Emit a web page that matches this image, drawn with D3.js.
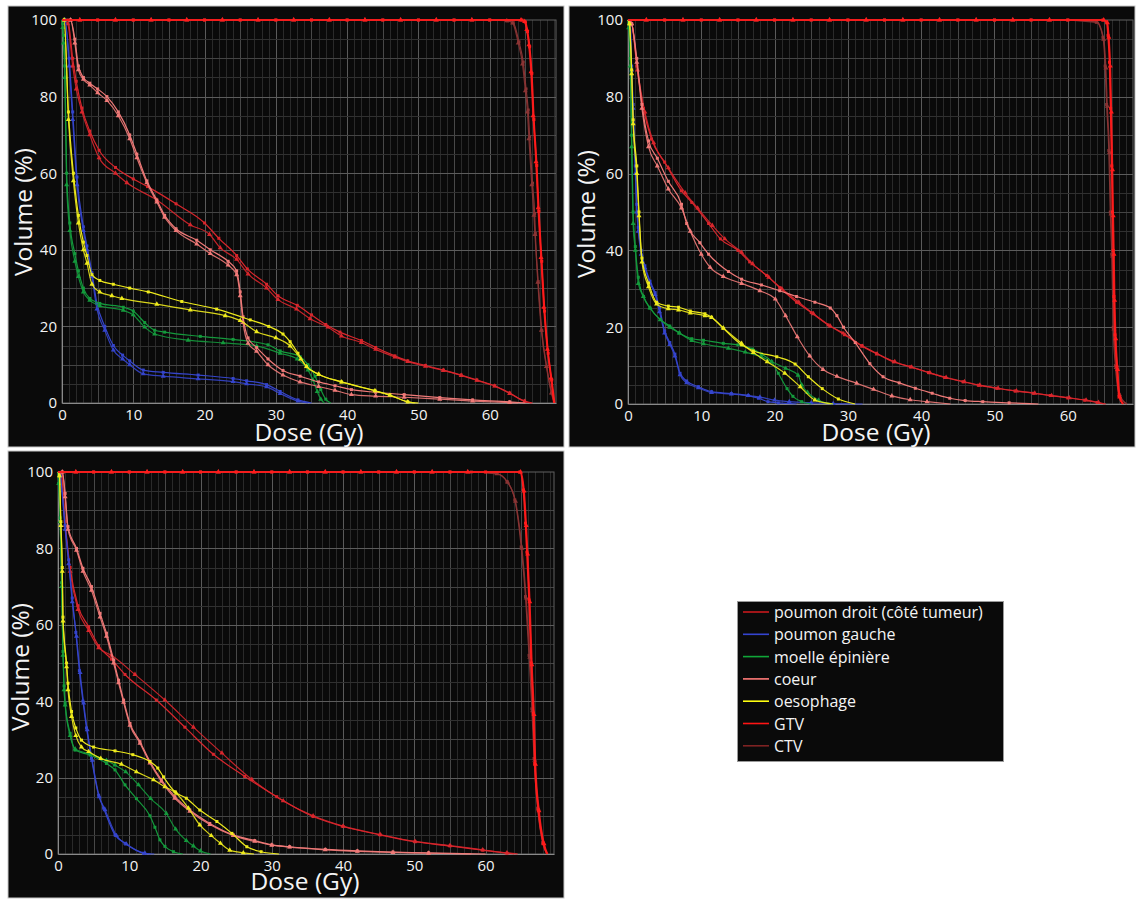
<!DOCTYPE html>
<html><head><meta charset="utf-8">
<script src="https://cdn.jsdelivr.net/npm/d3@7"></script>
<style>
body{margin:0;background:#fff;}
svg{display:block;}
text{font-family:"Open Sans","Noto Sans",sans-serif;}
</style>
</head><body>
<svg id="c" width="1136" height="900"></svg>
<script>
// ---------------- DATA ----------------
const structureNames = ["poumon droit (côté tumeur)", "poumon gauche", "moelle épinière", "coeur", "oesophage", "GTV", "CTV"];
const doseTicks = [0, 10, 20, 30, 40, 50, 60];
const volumeTicks = [0, 20, 40, 60, 80, 100];

// Panel 1 (top left)
const p1DroitA = [[0,100],[0.8,100],[1.5,90],[2,84],[2.8,77],[3.9,71],[5.2,66],[7.5,61.5],[10,58.5],[12,56.5],[16,52],[20,47],[22,43],[24.5,38.5],[26,35],[28.7,31],[30.3,28],[33,25.5],[35,23],[37,20.5],[39,18.5],[42,16.3],[44,14.5],[46.7,12.3],[48.5,11],[51,9.8],[53.5,8.6],[56,7.3],[58.2,6],[60.7,4.5],[62.8,2.6],[64.9,0.5],[66,0]];
const p1DroitB = [[0,100],[0.8,99],[1.5,88],[2,82],[2.8,76],[3.9,70],[5.2,64],[7.5,60],[9.1,57.5],[13.3,53],[18,46.5],[20.7,44],[22.2,40.5],[24.5,37.5],[26.1,33.7],[28.7,30],[30.3,27],[32.9,24.5],[34.8,22],[37.3,19.8],[39.2,17.5],[42,15.8],[44,14],[46.7,12],[48.5,10.8],[51,9.6],[53.5,8.5],[56,7.2],[58.2,5.9],[60.7,4.4],[62.8,2.5],[64.9,0.4],[65.8,0]];
const p1GaucheA = [[0,100],[0.4,100],[1,90],[1.5,76],[2.1,59],[3,46],[3.5,41],[4.2,34],[4.9,26],[6,20],[7.2,15],[8.5,12.5],[9.5,11],[11.4,8.6],[14.2,8],[19.1,7.3],[24,6.4],[25.9,5.8],[28.7,4.8],[30.6,3],[33.1,0.8],[35,0]];
const p1GaucheB = [[0,100],[0.4,100],[1,88],[1.5,74],[2.1,57],[3,45],[3.5,40],[4.2,33],[4.9,24.5],[6,19],[7.2,13.8],[8.5,11.5],[9.5,10],[11.4,7.6],[14.2,7],[19.1,6.3],[24,5.6],[25.9,5],[28.7,4.2],[30.6,2.5],[33.1,0.5],[34.5,0]];
const p1MoelleA = [[0,100],[0.1,99],[0.2,96],[0.4,88],[0.65,60],[1.1,47],[1.8,39],[2.3,34.5],[3,30],[3.9,27.3],[5.3,26],[8.6,25],[10,24],[11.6,21],[13,19],[14.4,18.5],[19.4,17.4],[24,16.6],[28.9,15.2],[30.6,13.6],[33.4,12.1],[34.5,10],[35.5,7],[36.3,3.5],[37,1],[37.7,0]];
const p1MoelleB = [[0,100],[0.1,98],[0.2,94],[0.4,85],[0.65,57],[1.1,45],[1.8,37],[2.3,33],[3,29],[3.9,26.8],[5.3,25.4],[8.6,24.2],[10,23],[11.6,19.8],[13,18],[17.7,16.4],[22.6,15.7],[27.3,14.9],[30.6,13],[33,11.5],[34.5,8.6],[35.2,6],[35.8,3],[36.3,1],[36.8,0]];
const p1CoeurA = [[0,100],[1.2,100],[1.8,95],[2.3,88],[3,85],[3.9,83.5],[5,82],[6.3,80],[7.9,76],[9.5,70],[10.5,65],[11.9,58],[13.3,53],[14.4,49],[16,45.5],[18.9,42.5],[20.8,40],[23.3,37],[24.5,34.5],[25,29],[25.4,22.5],[26.1,17],[27.3,14.5],[28.9,11.5],[31,8.5],[33.4,7],[36,5.5],[38.3,4.5],[40.6,3.5],[44,2.8],[48,2.2],[53,1.4],[57.6,0.8],[62.8,0.3],[65,0]];
const p1CoeurB = [[0,100],[1.2,100],[1.8,94],[2.3,87],[3,84.5],[3.9,83],[5,81],[6.3,79],[7.9,75],[9.5,69],[10.5,64],[11.9,57.5],[13.3,52.5],[14.4,48.5],[16,45],[18.9,41.5],[20.8,39],[23.3,36],[24.5,33.5],[25,28],[25.4,21],[26.1,15.6],[27.3,13.5],[28.9,10],[31,7.3],[33.4,5.5],[36,4.3],[38.3,3.3],[40.6,2.2],[44,1.8],[48,1.5],[53,1],[57.6,0.5],[62.8,0.1],[64,0]];
const p1OesoA = [[0,100],[0.3,100],[0.9,76],[1.6,60],[2.3,49],[3,42],[3.5,38.5],[4.2,33.5],[5.3,32],[7.2,31],[9.5,30],[12.1,29],[16.8,26.5],[21.7,24.5],[26.4,21.7],[29,20],[31,18],[32,16],[33.1,13],[34.3,9.5],[36,7.5],[39.2,5.5],[43.9,3.2],[46,2.1],[48.5,0.3],[50,0]];
const p1OesoB = [[0,100],[0.3,100],[0.9,74],[1.6,58],[2.3,47],[3,40],[3.5,36.5],[4.2,31],[5.3,29],[7,28],[8.4,27.3],[13.3,25.8],[18,24.3],[22.9,22.8],[25,21.5],[27.3,18.6],[30,17],[32,14.9],[33.5,11.5],[34.3,9.5],[36,7.5],[39.2,5.5],[43.9,3.2],[46,2],[48.5,0.3],[49.5,0]];
const p1GtvA = [[0,100],[5,100],[10,100],[15,100],[20,100],[25,100],[30,100],[35,100],[40,100],[45,100],[50,100],[55,100],[60,100],[64.5,100],[65,99.5],[65.3,97],[65.6,93],[65.9,86],[66.2,74],[66.6,62],[66.9,50],[67.3,37],[67.7,24],[68.2,13],[68.7,6],[69.1,0]];
const p1GtvB = [[0,100],[2.5,100],[7.5,100],[12.5,100],[17.5,100],[22.5,100],[27.5,100],[32.5,100],[37.5,100],[42.5,100],[47.5,100],[52.5,100],[57.5,100],[64.4,100],[64.9,99.6],[65.2,97.5],[65.5,93.5],[65.8,86.5],[66.1,75],[66.5,63],[66.8,51],[67.2,38],[67.6,25],[68.1,14],[68.6,6.5],[69,0]];
const p1CtvA = [[0,100],[5,100],[10,100],[15,100],[20,100],[25,100],[30,100],[35,100],[40,100],[45,100],[50,100],[55,100],[60,100],[62.5,99.8],[63.3,99.3],[64.1,94.3],[64.7,89],[65.1,82],[65.4,76.5],[65.6,69.5],[66,57.4],[66.3,49.5],[66.4,44.3],[66.8,31.7],[67.3,19],[68,9.5],[68.7,2.6],[69.1,0]];
const p1CtvB = [[0,100],[2.5,100],[7.5,100],[12.5,100],[17.5,100],[22.5,100],[27.5,100],[32.5,100],[37.5,100],[42.5,100],[47.5,100],[52.5,100],[57.5,100],[62.4,99.8],[63.2,99.2],[64,94],[64.6,88.5],[65,81.5],[65.3,76],[65.5,69],[65.9,57],[66.2,49],[66.35,44],[66.75,31.5],[67.25,19],[67.95,9.5],[68.65,2.6],[69.05,0]];

// Panel 2 (top right)
const p2DroitA = [[0,100],[0.5,99],[1.2,88],[2.1,77],[3.2,69],[5,63],[7.3,55.5],[8.7,52.5],[11,47],[12.6,43],[15,40],[16.6,37],[18.9,33.5],[20.7,30.3],[23,26.5],[25,23.8],[27.3,20.6],[29.3,18.5],[31.9,15.2],[33.9,13.2],[36.2,11],[38.5,9.7],[41,8.2],[43.2,6.9],[45.7,5.8],[47.8,4.9],[50.3,4.1],[52.8,3.4],[55.3,2.8],[57.6,2.2],[60,1.6],[62.3,1],[64,0.4],[65,0]];
const p2DroitB = [[0,100],[0.5,99],[1.3,87],[2.3,76],[3.5,68],[5.5,61.5],[7.8,55],[9.5,51],[11.5,46.5],[13.2,43],[15.5,39.5],[17,36.5],[19.2,33],[21,30],[23.3,26.5],[25.3,23.5],[27.6,20.3],[29.6,18],[32,15],[34,13],[36.4,11],[38.7,9.6],[41.2,8.1],[43.4,6.9],[45.9,5.8],[48,4.9],[50.5,4.1],[53,3.4],[55.5,2.8],[57.8,2.2],[60.2,1.6],[62.5,1],[64.2,0.4],[65.2,0]];
const p2GaucheA = [[0,100],[0.3,99],[0.5,88],[0.7,78],[1,62],[1.2,52],[1.4,46],[1.8,40],[2.3,36],[3,32],[3.7,29],[4.3,25],[5,19],[5.7,16],[6.4,13],[7.1,8],[8,6],[9.6,4.5],[11.4,3.2],[14.1,2.7],[16.4,2.2],[17.8,1.5],[19.1,0.6],[20.5,0.3],[23,0]];
const p2GaucheB = [[0,100],[0.3,99],[0.5,87],[0.7,77],[1,60],[1.2,50],[1.4,45],[1.8,39],[2.3,35.5],[3,31.5],[3.7,28.5],[4.3,24],[5,18.5],[5.7,15.5],[6.4,12.5],[7.1,7.6],[8,5.5],[9.6,4.2],[11.4,3],[14.1,2.6],[16.4,2.2],[18,1.8],[20,1],[22,0.6],[25,0.3],[28,0.1],[32,0]];
const p2MoelleA = [[0,100],[0.1,99],[0.3,90],[0.5,70],[0.7,50],[1,41],[1.4,33],[2.1,28],[3,25],[4.4,22],[5.7,20.3],[7,18.5],[8.7,17],[10.3,16.6],[13,15.8],[15,15.4],[17,14.3],[18.2,13],[19.6,11],[20.5,8],[21.7,4],[22.5,2],[23.7,0.6],[25,0]];
const p2MoelleB = [[0,100],[0.1,98],[0.3,88],[0.5,67],[0.7,47],[1,40],[1.4,31.4],[2.1,28],[3,25],[4.4,21.9],[5.7,20],[7,18.5],[8.7,16.5],[10.3,15.7],[13.7,14.5],[16,13.5],[18.2,12.3],[19.6,11],[21.5,9.3],[23.2,7.5],[23.7,5],[24.5,3],[26,1],[28,0]];
const p2CoeurA = [[0,100],[0.5,99],[1.2,90],[1.9,78],[2.8,68.5],[4,64],[5.5,58],[7.3,52],[8,47],[9.8,42],[11,39],[13.7,34.5],[15.5,32.5],[18.2,31],[20.7,29.5],[23,28],[25.5,26.5],[27.6,25],[28.5,23],[29.4,20],[31,16],[33,10.5],[34.8,7.1],[37,5.5],[39.2,4.1],[41.5,2.8],[43.9,1.5],[46,0.9],[48.4,0.6],[52,0.3],[56,0]];
const p2CoeurB = [[0,100],[0.5,99],[1.2,89],[1.9,77],[2.8,67],[4,62],[5.5,56],[7.3,51],[8.5,45],[10,39],[11.2,35.6],[13,33.2],[15.5,31.4],[18,29.5],[20.1,27.3],[21.5,23],[23.1,17.5],[24.8,12.5],[26.6,9],[28.5,7.2],[31.2,5.4],[33.5,3.8],[36,2.1],[38.5,1.1],[40.8,0.6],[44,0]];
const p2OesoA = [[0,100],[0.2,99],[0.5,87],[0.7,74],[1.2,62],[1.5,50],[1.9,38],[2.8,31.5],[3.9,26.5],[5.5,25.5],[6.9,25.2],[8.5,24.2],[10.5,23.5],[11.4,22.6],[13,19.7],[15.5,15.4],[17.1,13.8],[20.3,12.3],[22.8,10.4],[24.6,7.1],[26.5,4],[28.7,1.3],[31,0]];
const p2OesoB = [[0,100],[0.2,99],[0.5,86],[0.7,73],[1.2,60],[1.5,49],[1.9,37],[2.8,30.5],[3.9,26],[5.5,24.8],[6.9,24.5],[8.5,23.7],[10.5,23],[11.4,22.5],[13,19.8],[15.5,15.8],[17.1,13.4],[19,11],[21.4,8],[23.5,4.5],[25.5,1],[28,0]];
const p2GtvA = [[0,100],[5,100],[10,100],[15,100],[20,100],[25,100],[30,100],[35,100],[40,100],[45,100],[50,100],[55,100],[60,100],[64.8,100],[65.3,99.5],[65.5,96],[65.7,89],[65.85,77],[66,62],[66.1,50],[66.2,40],[66.3,28],[66.45,18],[66.7,9.7],[67,2],[67.5,0]];
const p2GtvB = [[0,100],[2.5,100],[7.5,100],[12.5,100],[17.5,100],[22.5,100],[27.5,100],[32.5,100],[37.5,100],[42.5,100],[47.5,100],[52.5,100],[57.5,100],[64.9,100],[65.4,99.3],[65.6,95.5],[65.8,88],[65.95,76],[66.1,61],[66.2,49],[66.3,39],[66.4,27],[66.55,17],[66.8,9],[67.1,1.8],[67.6,0]];
const p2CtvA = [[0,100],[5,100],[10,100],[15,100],[20,100],[25,100],[30,100],[35,100],[40,100],[45,100],[50,100],[55,100],[60,100],[63.9,99.5],[64.8,95.5],[65.1,88],[65.3,78],[65.6,66],[65.8,50],[66,39],[66.2,20],[66.5,10],[67,2.5],[68,0]];
const p2CtvB = [[0,100],[2.5,100],[7.5,100],[12.5,100],[17.5,100],[22.5,100],[27.5,100],[32.5,100],[37.5,100],[42.5,100],[47.5,100],[52.5,100],[57.5,100],[64,99.4],[64.9,95],[65.2,87.5],[65.4,77.5],[65.7,65.5],[65.9,49.5],[66.1,38.5],[66.3,19.5],[66.6,9.5],[67.1,2.3],[68.1,0]];

// Panel 3 (bottom left)
const p3DroitA = [[0,100],[0.5,99],[1,87],[1.7,75],[2.8,65],[4.3,59.5],[5.7,54.5],[7.5,51],[9.4,47],[13.8,40.3],[17.8,33.2],[21.8,26.1],[26.2,20.3],[30.7,15],[35.8,9.8],[40,7.2],[45.2,5],[50.1,3.2],[55,2.1],[59.6,1],[63,0.2],[64,0]];
const p3DroitB = [[0,100],[0.5,99],[1,86],[1.7,74],[2.8,64],[4.3,58.5],[5.7,54],[7.5,52],[10.8,47],[15,40.3],[19,33.2],[23,26.4],[27.2,19.5],[31.6,13.9],[35.8,10],[40,7.3],[45.2,5.1],[50.1,3.3],[55,2.2],[59.6,1.1],[63,0.3],[64.5,0]];
const p3GaucheA = [[0,100],[0.3,99],[1,86],[1.5,77],[2,67],[2.5,58],[3,48],[3.5,40],[4,33],[4.7,25],[5.7,15.4],[6.4,12],[8,5],[9.4,2.8],[12,0.2],[13,0]];
const p3GaucheB = [[0,100],[0.3,99],[1,85],[1.5,76],[2,66],[2.6,57],[3.1,47.5],[3.6,39.5],[4.1,32.5],[4.8,24.5],[5.8,15],[6.6,11.6],[8.2,4.8],[9.6,2.6],[12.2,0.2],[13.5,0]];
const p3MoelleA = [[0,100],[0.1,97],[0.3,88],[0.5,71],[0.7,53],[0.85,44],[1,39.5],[1.7,31.6],[2.4,27.2],[4.5,25.9],[6.8,23.7],[8,22],[9.4,18.1],[11,14.5],[12.9,10],[13.6,7],[14.3,3.7],[15,2],[16.2,0.6],[17.5,0]];
const p3MoelleB = [[0,100],[0.1,97],[0.3,87],[0.5,70],[0.7,52],[0.85,43],[1,39],[1.7,31],[2.4,27.5],[4.5,26.2],[6.8,24.5],[8,23.3],[9.5,21.5],[11.3,18.1],[13,14.5],[15.2,10.6],[16.5,6.5],[18,3.5],[19,2.1],[20,0.8],[21.4,0]];
const p3CoeurA = [[0,100],[0.6,100],[1,94.4],[1.4,85.7],[2.6,80],[3.5,74.8],[4.7,70],[5.9,63],[6.8,57.8],[7.8,50.8],[8.5,45.5],[9.2,40.3],[10.1,34.2],[11.5,29.4],[12.9,24.2],[14.5,19.4],[16.4,15],[18.5,11.5],[21.3,8],[24.6,5],[27.6,3.5],[30,2.4],[32.5,1.9],[37.5,1.2],[42,0.8],[47,0.5],[52,0.3],[60,0]];
const p3CoeurB = [[0,100],[0.6,100],[1,93.5],[1.4,85],[2.6,79.5],[3.5,74],[4.7,69],[5.9,62],[6.8,57],[7.8,50],[8.5,44.8],[9.2,39.7],[10.1,33.7],[11.5,29],[12.9,23.8],[14.5,19],[16.4,14.6],[18.5,11.2],[21.3,7.7],[24.6,4.8],[27.6,3.3],[30,2.3],[32.5,1.8],[37.5,1.1],[42,0.7],[47,0.4],[52,0.2],[58,0]];
const p3OesoA = [[0,100],[0.2,99],[0.4,87],[0.6,75],[0.7,62],[1.2,50],[1.4,44.7],[1.9,37.3],[2.5,33],[3.3,29.8],[5,28],[8,27],[10.5,26],[12.9,24.2],[14,22.5],[14.8,20.2],[16.4,16.3],[18,14.6],[19.9,11.5],[22.3,8.5],[24.4,5.4],[26.5,1.9],[28.5,0.6],[31,0]];
const p3OesoB = [[0,100],[0.2,99],[0.4,86],[0.6,74],[0.7,61],[1.2,49],[1.4,43],[1.9,36],[2.5,31],[3.3,28],[4.3,26.8],[6,25],[8.9,23.5],[11,21.5],[13.4,19.4],[15,17.6],[16.6,15.9],[18.3,12],[19.9,7.6],[21.5,4.8],[22.8,2.8],[24.1,1],[26,0.3],[27.5,0]];
const p3GtvA = [[0,100],[5,100],[10,100],[15,100],[20,100],[25,100],[30,100],[35,100],[40,100],[45,100],[50,100],[55,100],[60,100],[64.8,100],[65.3,95.3],[65.6,86.6],[65.8,79],[66.1,66.5],[66.4,50],[66.7,36.8],[66.9,23.7],[67.4,11.5],[68.1,2.8],[68.6,0]];
const p3GtvB = [[0,100],[2.5,100],[7.5,100],[12.5,100],[17.5,100],[22.5,100],[27.5,100],[32.5,100],[37.5,100],[42.5,100],[47.5,100],[52.5,100],[57.5,100],[64.9,100],[65.4,95],[65.7,86],[65.9,78.5],[66.2,66],[66.5,49.5],[66.8,36.5],[67,23.5],[67.5,11.3],[68.2,2.7],[68.7,0]];
const p3CtvA = [[0,100],[5,100],[10,100],[15,100],[20,100],[25,100],[30,100],[35,100],[40,100],[45,100],[50,100],[55,100],[58,100],[61.5,99.6],[63,97.5],[64.1,92.7],[65,80.4],[65.6,67.4],[66.1,52],[66.5,38],[66.8,25],[67.3,12],[68,3],[68.6,0]];
const p3CtvB = [[0,100],[2.5,100],[7.5,100],[12.5,100],[17.5,100],[22.5,100],[27.5,100],[32.5,100],[37.5,100],[42.5,100],[47.5,100],[52.5,100],[57.5,100],[61.6,99.5],[63.1,97.3],[64.2,92.3],[65.1,80],[65.7,67],[66.2,51.5],[66.6,37.5],[66.9,24.5],[67.4,11.8],[68.1,2.8],[68.7,0]];

// ---------------- STYLE / LAYOUT ----------------
const lineColors = ["#d8262c", "#3545cc", "#149a3c", "#f07a78", "#eeea1c", "#ff1c1c", "#8a3434"];
const legendColors = ["#c8181c", "#3444d0", "#10a638", "#ff7a78", "#ffff10", "#ff1414", "#7e2222"];

const panels = [
  {frame:[8,6,556,441], px:[62,556], py:[20,403], xMax:69.3,
   curves:[[p1DroitA,p1DroitB],[p1GaucheA,p1GaucheB],[p1MoelleA,p1MoelleB],[p1CoeurA,p1CoeurB],[p1OesoA,p1OesoB],[p1GtvA,p1GtvB],[p1CtvA,p1CtvB]],
   xTitle:[309,441], yTitle:[22,212]},
  {frame:[569,6,566,441], px:[628,1133], py:[20,404], xMax:68.9,
   curves:[[p2DroitA,p2DroitB],[p2GaucheA,p2GaucheB],[p2MoelleA,p2MoelleB],[p2CoeurA,p2CoeurB],[p2OesoA,p2OesoB],[p2GtvA,p2GtvB],[p2CtvA,p2CtvB]],
   xTitle:[876,441], yTitle:[585,214]},
  {frame:[8,451,556,447], px:[58,554], py:[472,854], xMax:69.6,
   curves:[[p3DroitA,p3DroitB],[p3GaucheA,p3GaucheB],[p3MoelleA,p3MoelleB],[p3CoeurA,p3CoeurB],[p3OesoA,p3OesoB],[p3GtvA,p3GtvB],[p3CtvA,p3CtvB]],
   xTitle:[305,890], yTitle:[19,667]}
];
const drawOrder = [0,1,2,3,4,6,5];

const svg = d3.select("#c");

panels.forEach(p => {
  const g = svg.append("g");
  g.append("rect").attr("x",p.frame[0]).attr("y",p.frame[1]).attr("width",p.frame[2]).attr("height",p.frame[3])
    .attr("fill","#0a0a0a").attr("stroke","#c8c8c8").attr("stroke-width",1);
  const x = d3.scaleLinear().domain([0,p.xMax]).range(p.px);
  const y = d3.scaleLinear().domain([0,100]).range([p.py[1],p.py[0]]);

  // grid
  const vGrid = d3.range(1, Math.floor(p.xMax)+1);
  g.selectAll(null).data(vGrid).join("line")
    .attr("x1",d=>Math.round(x(d))+0.5).attr("x2",d=>Math.round(x(d))+0.5)
    .attr("y1",p.py[0]).attr("y2",p.py[1])
    .attr("stroke",d=> d%10===0 ? "#5a5a5a" : (d%5===0 ? "#484848" : "#2a2a2a")).attr("stroke-width",1);
  const hGrid = d3.range(5, 100, 5);
  g.selectAll(null).data(hGrid).join("line")
    .attr("y1",d=>Math.round(y(d))+0.5).attr("y2",d=>Math.round(y(d))+0.5)
    .attr("x1",p.px[0]).attr("x2",p.px[1])
    .attr("stroke",d=> d%20===0 ? "#5c5c5c" : (d%10===0 ? "#444" : "#303030")).attr("stroke-width",1);
  g.append("rect").attr("x",p.px[0]).attr("y",p.py[0]).attr("width",p.px[1]-p.px[0]).attr("height",p.py[1]-p.py[0])
    .attr("fill","none").attr("stroke","#606060");

  // axes
  const ya = g.append("g").attr("transform",`translate(${p.px[0]},0)`)
    .call(d3.axisLeft(y).tickValues(volumeTicks).tickSize(0).tickPadding(5));
  const xa = g.append("g").attr("transform",`translate(0,${p.py[1]})`)
    .call(d3.axisBottom(x).tickValues(doseTicks).tickSize(0).tickPadding(6));
  [ya,xa].forEach(a=>{
    a.select(".domain").attr("stroke","#8a8a8a");
    a.selectAll("text").attr("fill","#f4f4f4").style("font-size","15px").style("font-family","'Open Sans',sans-serif");
  });

  g.append("text").attr("x",p.xTitle[0]).attr("y",p.xTitle[1]).attr("text-anchor","middle")
    .attr("fill","#f4f4f4").style("font-size","24.5px").text("Dose (Gy)");
  g.append("text").attr("transform",`translate(${p.yTitle[0]},${p.yTitle[1]}) rotate(-90)`)
    .attr("text-anchor","middle").attr("dominant-baseline","central")
    .attr("fill","#f4f4f4").style("font-size","24.5px").text("Volume (%)");

  // curves
  const line = d3.line().x(d=>x(d[0])).y(d=>y(d[1])).curve(d3.curveMonotoneX);
  const sq = d3.symbol().type(d3.symbolSquare).size(9);
  const tri = d3.symbol().type(d3.symbolTriangle).size(11);
  drawOrder.forEach(si => {
    const col = lineColors[si];
    const w = (si===5) ? 1.7 : 1.2;
    p.curves[si].forEach((pts, k) => {
      g.append("path").attr("d", line(pts)).attr("fill","none").attr("stroke",col)
        .attr("stroke-width",w).attr("stroke-opacity", k===0 ? 1 : 0.9);
      g.selectAll(null).data(pts.slice(1,-1)).join("path")
        .attr("transform",d=>`translate(${x(d[0])},${y(d[1])})`)
        .attr("d", k===0 ? sq() : tri()).attr("fill",col);
    });
  });
});

// legend
const lg = svg.append("g");
lg.append("rect").attr("x",737.5).attr("y",601.5).attr("width",266).attr("height",160)
  .attr("fill","#0a0a0a").attr("stroke","#9a9a9a");
structureNames.forEach((name,i)=>{
  const cy = 612 + i*22.3;
  lg.append("line").attr("x1",743).attr("x2",769).attr("y1",cy).attr("y2",cy)
    .attr("stroke",legendColors[i]).attr("stroke-width",1.6);
  lg.append("text").attr("x",774).attr("y",cy).attr("dominant-baseline","central")
    .attr("fill","#f4f4f4").style("font-size","16px").text(name);
});
</script>
</body></html>
